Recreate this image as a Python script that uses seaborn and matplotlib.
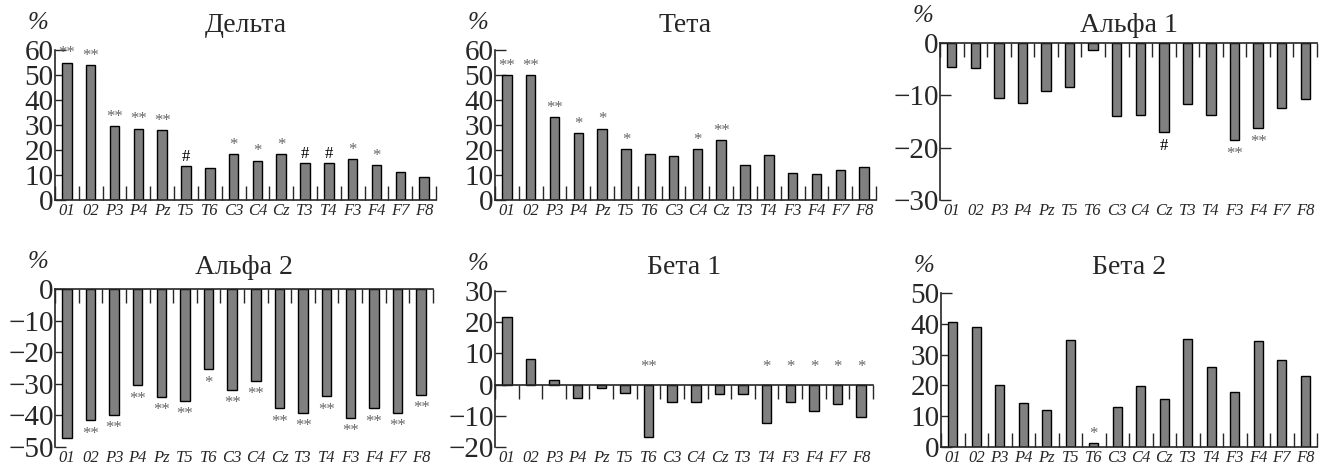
import numpy as np
import matplotlib
matplotlib.use('Agg')
import matplotlib.pyplot as plt
import seaborn as sns

channels = ['01', '02', 'P3', 'P4', 'Pz', 'T5', 'T6', 'C3', 'C4', 'Cz', 'T3', 'T4', 'F3', 'F4', 'F7', 'F8']

delta = [55, 54, 29.6, 28.5, 27.9, 13.6, 12.8, 18.3, 15.7, 18.3, 14.7, 14.7, 16.4, 14, 11.1, 9.3]
delta_marks = ['**', '**', '**', '**', '**', '#', '', '*', '*', '*', '#', '#', '*', '*', '', '']

theta = [50, 50, 33.1, 26.7, 28.5, 20.3, 18.4, 17.5, 20.3, 23.9, 13.9, 17.9, 10.9, 10.3, 12, 13.1]
theta_marks = ['**', '**', '**', '*', '*', '*', '', '', '*', '**', '', '', '', '', '', '']

alpha1 = [-4.6, -4.8, -10.6, -11.4, -9.2, -8.4, -1.3, -13.9, -13.8, -17.0, -11.6, -13.8, -18.6, -16.3, -12.4, -10.7]
alpha1_marks = ['', '', '', '', '', '', '', '', '', '#', '', '', '**', '**', '', '']

alpha2 = [-47.0, -41.5, -39.8, -30.5, -34.1, -35.3, -25.4, -31.9, -29.0, -37.8, -39.2, -33.9, -40.7, -37.8, -39.2, -33.4]
alpha2_marks = ['', '**', '**', '**', '**', '**', '*', '**', '**', '**', '**', '**', '**', '**', '**', '**']

beta1 = [21.6, 8.3, 1.4, -4.3, -1.0, -2.7, -16.8, -5.5, -5.5, -3.0, -3.0, -12.3, -5.5, -8.6, -6.3, -10.4]
beta1_marks = ['', '', '', '', '', '', '**', '', '', '', '', '*', '*', '*', '*', '*']

beta2 = [40.5, 39.0, 20.2, 14.2, 11.9, 34.6, 1.2, 13.0, 19.7, 15.5, 35.0, 26.0, 17.7, 34.4, 28.4, 23.2]
beta2_marks = ['', '', '', '', '', '', '*', '', '', '', '', '', '', '', '', '']

# title, values, marks, ylim, tick step, marks sit above the zero line
panels = [
    ('Дельта', delta, delta_marks, (0, 60), 10, False),
    ('Тета', theta, theta_marks, (0, 60), 10, False),
    ('Альфа 1', alpha1, alpha1_marks, (-30, 0), 10, False),
    ('Альфа 2', alpha2, alpha2_marks, (-50, 0), 10, False),
    ('Бета 1', beta1, beta1_marks, (-20, 30), 10, True),
    ('Бета 2', beta2, beta2_marks, (0, 50), 10, False),
]

# axes boxes in pixels: left, top, right, bottom
boxes = [(55, 50, 436, 200), (495, 50, 876, 200), (940, 43, 1317, 200),
         (55, 289, 433, 447), (495, 291, 873, 447), (941, 293, 1317, 447)]
title_rows = [25, 25, 25, 268, 268, 268]

sns.set_style('ticks')
plt.rcParams['font.family'] = ['Liberation Serif', 'DejaVu Serif']

W, H = 1325, 467
fig = plt.figure(figsize=(W / 100, H / 100), dpi=100)

for (title, vals, marks, ylim, step, at_zero), (l, t, r, b), ty in zip(panels, boxes, title_rows):
    ax = fig.add_axes([l / W, 1 - b / H, (r - l) / W, (b - t) / H])
    sns.barplot(x=channels, y=vals, color='#808080', saturation=1, edgecolor='black',
                linewidth=1, width=0.4, ax=ax)
    n = len(channels)
    ax.set_xlim(-0.5, n - 0.5)
    ax.set_ylim(*ylim)
    ax.set_yticks(np.arange(ylim[0], ylim[1] + 1, step))
    ax.tick_params(axis='y', direction='in', length=8, width=1, pad=1, labelsize=21)
    ax.set_xlabel('')
    ax.set_ylabel('')

    # zero line with separators between channels
    ax.spines['bottom'].set_position(('data', 0))
    ax.spines['top'].set_visible(False)
    ax.spines['right'].set_visible(False)
    ax.spines['left'].set_linewidth(1.2)
    ax.spines['bottom'].set_linewidth(1.2)
    ax.set_xticks(np.arange(-0.5, n, 1))
    ax.tick_params(axis='x', direction='in' if ylim[0] == 0 else 'out',
                   length=10, width=1, labelbottom=False)

    # channel names always under the plot
    lab = ax.secondary_xaxis('bottom')
    lab.set_xticks(range(n), channels, fontstyle='italic')
    lab.tick_params(length=0, pad=2, labelsize=12)
    for s in lab.spines.values():
        s.set_visible(False)

    for i, (v, m) in enumerate(zip(vals, marks)):
        if not m:
            continue
        if at_zero:
            y, off, va = 0, 7, 'bottom'
        elif v >= 0:
            y, off, va = v, 1, 'bottom'
        else:
            y, off, va = v, -4, 'top'
        ax.annotate(m, (i, y), xytext=(0, off), textcoords='offset points', ha='center',
                    va=va, fontsize=12, color='black' if m == '#' else '#666666',
                    annotation_clip=False)

    fig.text((l + r) / 2 / W, 1 - ty / H, title, ha='center', va='center', fontsize=20)
    fig.text((l - 17) / W, 1 - (t - 27) / H, '%', ha='center', va='center',
             fontsize=18, fontstyle='italic')

fig.savefig('out.png', dpi=100)
